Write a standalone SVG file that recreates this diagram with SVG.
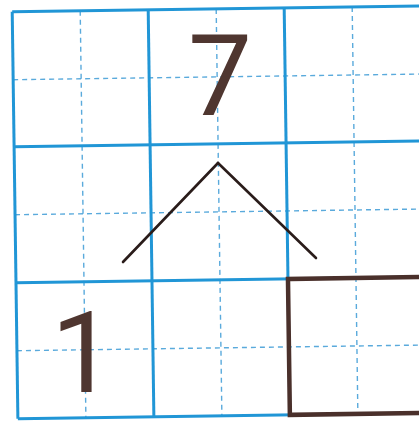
<svg xmlns="http://www.w3.org/2000/svg" width="419" height="422" viewBox="0 0 419 422">
  <style>
    .solid { stroke: #2196d6; stroke-width: 3; fill: none; }
    .dash { stroke: #5aaadc; stroke-width: 1.4; stroke-dasharray: 5 4; fill: none; }
    .digit { font-family: Roboto, "Liberation Sans", sans-serif; font-size: 114px; font-weight: 400; fill: #4f3630; text-anchor: middle; }
    .branch { stroke: #2a1c1a; stroke-width: 2.6; stroke-linecap: round; fill: none; }
    .box { stroke: #4a302b; stroke-width: 4.5; fill: none; }
  </style>
  <rect x="0" y="0" width="419" height="422" fill="#ffffff"/>
  <g id="grid" transform="rotate(-0.8 210 210)">
    <g class="dash">
      <line x1="83" y1="9" x2="83" y2="416"/>
      <line x1="219" y1="9" x2="219" y2="416"/>
      <line x1="355" y1="9" x2="355" y2="416"/>
      <line x1="15" y1="77" x2="430" y2="77"/>
      <line x1="15" y1="212" x2="430" y2="212"/>
      <line x1="15" y1="348" x2="430" y2="348"/>
    </g>
    <g class="solid">
      <line x1="15" y1="9" x2="430" y2="9"/>
      <line x1="15" y1="144" x2="430" y2="144"/>
      <line x1="15" y1="280" x2="430" y2="280"/>
      <line x1="15" y1="416" x2="430" y2="416"/>
      <line x1="15" y1="9" x2="15" y2="416"/>
      <line x1="151" y1="9" x2="151" y2="416"/>
      <line x1="287" y1="9" x2="287" y2="416"/>
    </g>
    <g id="box">
      <rect class="box" x="287" y="280" width="150" height="136"/>
    </g>
  </g>
  <g id="seven">
    <text class="digit" x="220" y="115">7</text>
  </g>
  <g id="one">
    <text class="digit" x="83" y="392">1</text>
  </g>
  <g id="connectors">
    <line class="branch" x1="218" y1="163" x2="123" y2="262"/>
    <line class="branch" x1="218" y1="163" x2="316" y2="258"/>
  </g>
</svg>
